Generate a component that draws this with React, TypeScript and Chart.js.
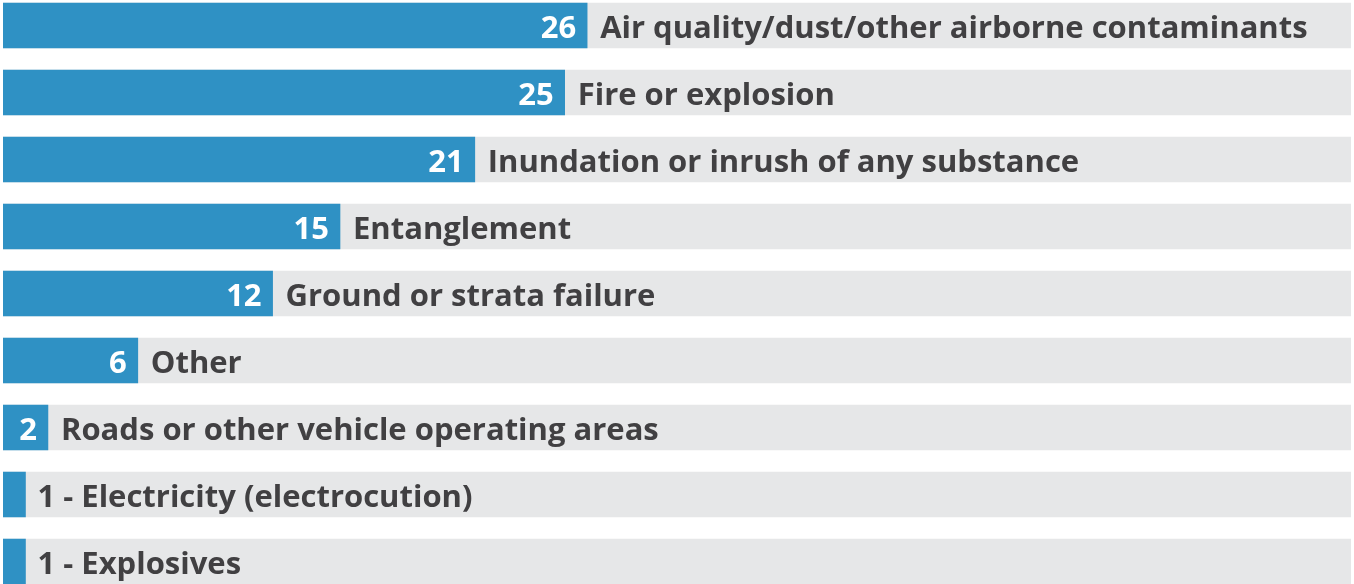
import React, { useEffect, useRef } from "react";
import { Chart, registerables } from "chart.js";

Chart.register(...registerables);

const categories: string[] = [
  "Air quality/dust/other airborne contaminants",
  "Fire or explosion",
  "Inundation or inrush of any substance",
  "Entanglement",
  "Ground or strata failure",
  "Other",
  "Roads or other vehicle operating areas",
  "Electricity (electrocution)",
  "Explosives",
];
const values: number[] = [26, 25, 21, 15, 12, 6, 2, 1, 1];
const axisMax = 60;
const trackValues: number[] = categories.map(() => axisMax);

const BLUE = "#2f91c4";
const TRACK = "#e6e7e8";
const TEXT = "#414042";
const FONT_SIZE = 31;
const FONT = `700 ${FONT_SIZE}px "Open Sans", sans-serif`;

const labelPlugin = {
  id: "barLabels",
  afterDatasetsDraw(chart: any) {
    const ctx = chart.ctx;
    const meta = chart.getDatasetMeta(0);
    ctx.save();
    ctx.font = FONT;
    ctx.textBaseline = "alphabetic";
    meta.data.forEach((bar: any, i: number) => {
      const v = values[i];
      const endX = bar.x;
      const baseY = bar.y + FONT_SIZE * 0.4;
      if (v >= 2) {
        ctx.fillStyle = "#ffffff";
        ctx.textAlign = "right";
        ctx.fillText(String(v), endX - 11, baseY);
        ctx.fillStyle = TEXT;
        ctx.textAlign = "left";
        ctx.fillText(categories[i], endX + 13, baseY);
      } else {
        ctx.fillStyle = TEXT;
        ctx.textAlign = "left";
        ctx.fillText(`${v} - ${categories[i]}`, endX + 12, baseY);
      }
    });
    ctx.restore();
  },
};

export default function App() {
  const ref = useRef<HTMLCanvasElement | null>(null);
  useEffect(() => {
    if (!ref.current) return;
    const chart = new Chart(ref.current, {
      type: "bar",
      data: {
        labels: categories,
        datasets: [
          {
            data: values,
            backgroundColor: BLUE,
            barThickness: 45,
            grouped: false,
            order: 0,
          },
          {
            data: trackValues,
            backgroundColor: TRACK,
            barThickness: 45,
            grouped: false,
            order: 1,
          },
        ],
      },
      options: {
        indexAxis: "y",
        animation: false,
        responsive: false,
        maintainAspectRatio: false,
        layout: { padding: { left: 3, right: 3, top: 0, bottom: 0 } },
        scales: {
          x: { display: false, min: 0, max: axisMax },
          y: { display: false },
        },
        plugins: {
          legend: { display: false },
          tooltip: { enabled: false },
        },
      },
      plugins: [labelPlugin],
    });
    return () => chart.destroy();
  }, []);
  return (
    <div
      style={{
        position: "fixed",
        left: 0,
        top: 0,
        width: 1354,
        height: 584,
        overflow: "hidden",
        background: "#ffffff",
      }}
    >
      <canvas
        ref={ref}
        width={1354}
        height={603}
        style={{ position: "absolute", left: 0, top: -8, width: 1354, height: 603 }}
      />
    </div>
  );
}
